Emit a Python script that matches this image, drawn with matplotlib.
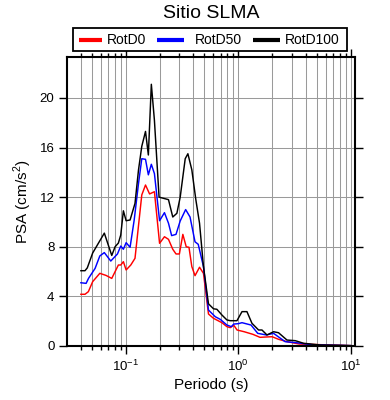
import matplotlib
matplotlib.use("Agg")
import matplotlib.pyplot as plt
from matplotlib.ticker import LogLocator, NullFormatter, MultipleLocator
from matplotlib.lines import Line2D
from matplotlib.patches import Rectangle
import numpy as np

plt.rcParams['font.family'] = ['Liberation Sans', 'DejaVu Sans']
plt.rcParams['mathtext.fontset'] = 'custom'
plt.rcParams['mathtext.rm'] = 'Liberation Sans'

title = "Sitio SLMA"
xlabel = "Periodo (s)"
ylabel = "PSA (cm/s$^2$)"
series_names = ['RotD0', 'RotD50', 'RotD100']
series_colors = ['#ff0000', '#0000ff', '#000000']

t_rotd100 = [0.040, 0.0435, 0.0456, 0.0509, 0.0646, 0.0752, 0.0805, 0.0861, 0.0904, 0.0954,
             0.1009, 0.1094, 0.121, 0.130, 0.139, 0.150, 0.159, 0.169, 0.180, 0.198,
             0.240, 0.262, 0.285, 0.305, 0.338, 0.357, 0.387, 0.420, 0.453, 0.491,
             0.544, 0.603, 0.646, 0.716, 0.793, 0.849, 0.974, 1.08, 1.195, 1.324,
             1.516, 1.625, 1.80, 2.06, 2.28, 2.71, 3.21, 3.81, 5.37, 8.08, 10.0]
v_rotd100 = [6.07, 6.07, 6.3, 7.5, 9.1, 7.3, 8.0, 8.3, 8.95, 10.9,
             10.1, 10.16, 11.5, 14.2, 16.1, 17.3, 15.4, 21.1, 18.2, 12.0,
             11.8, 10.4, 10.7, 12.0, 15.1, 15.5, 14.2, 11.8, 9.9, 6.4,
             3.4, 3.0, 2.96, 2.5, 2.1, 2.04, 2.04, 2.77, 2.77, 1.83,
             1.29, 1.29, 0.89, 1.15, 1.07, 0.48, 0.43, 0.22, 0.08, 0.05, 0.03]

t_rotd50 = [0.040, 0.0445, 0.0468, 0.0535, 0.0589, 0.0646, 0.0737, 0.0845, 0.0904, 0.0954,
            0.1009, 0.1094, 0.119, 0.130, 0.139, 0.150, 0.159, 0.169, 0.180, 0.200,
            0.221, 0.240, 0.256, 0.280, 0.305, 0.341, 0.373, 0.413, 0.441, 0.491,
            0.544, 0.625, 0.692, 0.793, 0.868, 0.913, 1.0, 1.08, 1.3, 1.49,
            1.78, 2.06, 2.61, 3.26, 4.52, 10.0]
v_rotd50 = [5.1, 5.05, 5.46, 6.26, 7.26, 7.53, 6.85, 7.42, 8.06, 7.8,
            8.33, 7.96, 10.16, 13.1, 15.1, 15.05, 13.8, 14.65, 13.9, 10.1,
            10.75, 9.9, 8.9, 9.0, 10.08, 11.0, 10.4, 8.4, 8.2, 6.4,
            2.9, 2.36, 2.15, 1.69, 1.56, 1.77, 1.80, 1.88, 1.69, 1.02,
            0.89, 1.02, 0.35, 0.27, 0.1, 0.03]

t_rotd0 = [0.040, 0.0435, 0.0466, 0.0509, 0.0589, 0.0669, 0.0752, 0.0861, 0.0904, 0.0954,
           0.1009, 0.111, 0.121, 0.139, 0.150, 0.163, 0.180, 0.200, 0.221, 0.240,
           0.262, 0.280, 0.300, 0.322, 0.345, 0.365, 0.387, 0.413, 0.453, 0.491,
           0.544, 0.603, 0.716, 0.793, 0.849, 0.913, 0.976, 1.13, 1.35, 1.56,
           2.0, 2.28, 2.71, 3.48, 10.0]
v_rotd0 = [4.17, 4.17, 4.38, 5.19, 5.86, 5.69, 5.45, 6.53, 6.53, 6.8,
           6.13, 6.53, 7.07, 12.18, 12.98, 12.26, 12.44, 8.28, 8.81, 8.6,
           7.8, 7.42, 7.42, 9.0, 8.0, 7.96, 6.4, 5.67, 6.35, 5.86,
           2.58, 2.23, 1.88, 1.56, 1.48, 1.67, 1.29, 1.15, 0.94, 0.70,
           0.75, 0.54, 0.35, 0.16, 0.03]

W, H = 390, 400
fig = plt.figure(figsize=(W / 100, H / 100), dpi=100)
ax = fig.add_axes([67 / W, 54 / H, 288 / W, 289 / H])

ax.plot(t_rotd0, v_rotd0, color=series_colors[0], lw=1.05)
ax.plot(t_rotd50, v_rotd50, color=series_colors[1], lw=1.05)
ax.plot(t_rotd100, v_rotd100, color=series_colors[2], lw=1.05)

ax.set_xscale('log')
ax.set_xlim(0.0301, 10.9)
ax.set_ylim(0, 23.3)
ax.yaxis.set_major_locator(MultipleLocator(4))
ax.xaxis.set_major_locator(LogLocator(base=10, numticks=10))
ax.xaxis.set_minor_locator(LogLocator(base=10, subs=np.arange(2, 10), numticks=20))
ax.xaxis.set_minor_formatter(NullFormatter())

ax.grid(True, which='major', axis='both', color='#9a9a9a', lw=0.75)
ax.grid(True, which='minor', axis='x', color='#9a9a9a', lw=0.75)
ax.set_axisbelow(True)

for s in ax.spines.values():
    s.set_linewidth(1.5)
ax.tick_params(which='both', direction='out', top=True, right=True, labelsize=9.5, width=1.0)
ax.tick_params(which='major', length=5.5)
ax.tick_params(which='minor', length=3)

ax.set_xlabel(xlabel, fontsize=11, labelpad=3)
ax.set_ylabel(ylabel, fontsize=11)
fig.text(211 / W, 1 - 14 / H, title, ha='center', va='center', fontsize=14)

# legend drawn as a GMT-style boxed key
box = Rectangle((73 / W, 1 - 51 / H), 274 / W, 23 / H, transform=fig.transFigure,
                facecolor='white', edgecolor='black', lw=1.3)
fig.add_artist(box)
handle_x = [(79, 102), (157, 184), (253, 280)]
text_x = [107, 195, 285]
yc = 1 - 39.5 / H
for (hx0, hx1), tx, name, col in zip(handle_x, text_x, series_names, series_colors):
    fig.add_artist(Line2D([hx0 / W, hx1 / W], [yc, yc], transform=fig.transFigure,
                          color=col, lw=3, solid_capstyle='butt'))
    fig.text(tx / W, yc, name, ha='left', va='center', fontsize=10)

fig.savefig('out.png', dpi=100)
